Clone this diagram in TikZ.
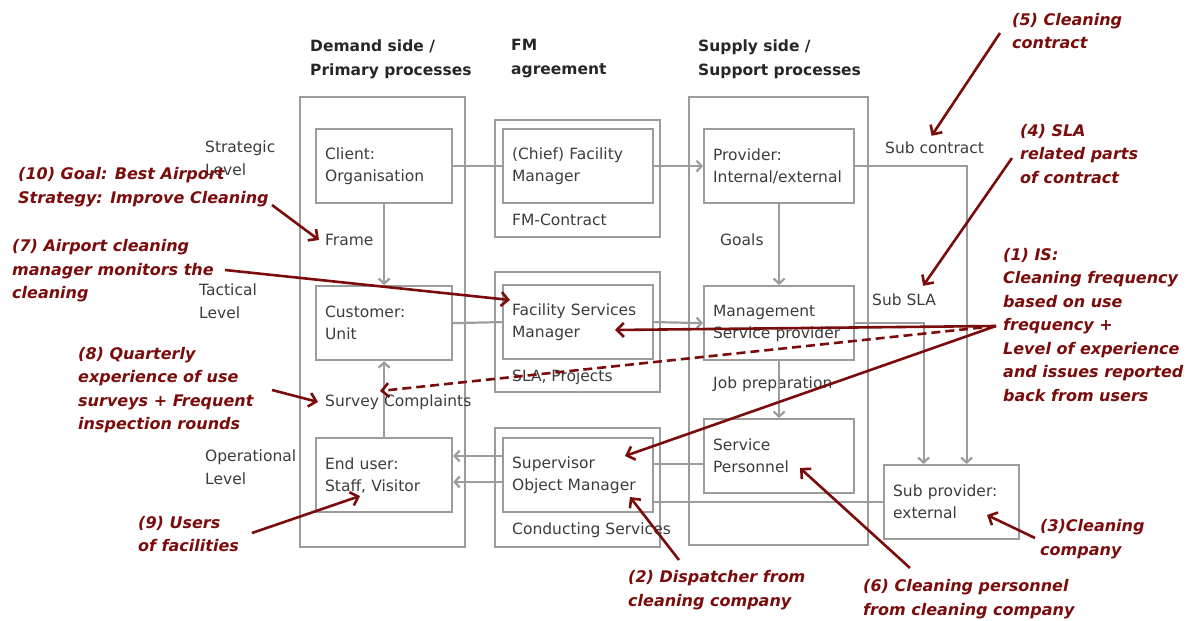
\documentclass[tikz,border=0pt]{standalone}
\usepackage{fontspec}
\setmainfont{DejaVu Sans}
\usetikzlibrary{positioning,fit,arrows.meta,calc}
\definecolor{boxgrey}{HTML}{9C9C9C}
\definecolor{txtgrey}{HTML}{3C3C3C}
\definecolor{notered}{HTML}{7A0C0C}
\begin{document}
\begin{tikzpicture}[x=1pt,y=-1pt,
  procbox/.style={draw=boxgrey,line width=2.2pt,text=txtgrey,align=left,anchor=north west,minimum height=74pt,inner xsep=9pt,font=\fontsize{15.5}{22}\selectfont},
  outerbox/.style={draw=boxgrey,line width=2.6pt,inner sep=0pt},
  lbl/.style={text=txtgrey,anchor=west,inner sep=1pt,align=left,font=\fontsize{15.5}{22.5}\selectfont},
  hdr/.style={text=black!85,anchor=west,inner sep=0pt,align=left,font=\bfseries\fontsize{15.5}{24}\selectfont},
  note/.style={text=notered,anchor=west,inner sep=0pt,align=left,font=\bfseries\itshape\fontsize{16}{23.5}\selectfont},
  gline/.style={draw=boxgrey,line width=2.2pt},
  garrow/.style={gline,-{Straight Barb[length=5pt,width=11pt]}},
  rarrow/.style={draw=notered,line width=2.6pt,-{Straight Barb[length=7pt,width=14pt]}},
  ]
  \useasboundingbox (0,0) rectangle (1187,621);
  \node[hdr] (hdemand) at (310,59) {Demand side /\\Primary processes};
  \node[hdr] (hfm) at (511,59) {FM\\agreement};
  \node[hdr] (hsupply) at (698,59) {Supply side /\\Support processes};
  \node[outerbox,fit={(300,97)(465,547)}] (demand) {};
  \node[outerbox,fit={(495,120)(660,237)}] (fmcontr) {};
  \node[outerbox,fit={(495,272)(660,392)}] (slaproj) {};
  \node[outerbox,fit={(495,428)(660,547)}] (conduct) {};
  \node[outerbox,fit={(689,97)(868,545)}] (supply) {};
  \node[lbl] (lstrat) at (204,158) {Strategic\\Level};
  \node[lbl] (ltact) at (198,301) {Tactical\\Level};
  \node[lbl] (loper) at (204,467) {Operational\\Level};
  \node[procbox,text width=118pt] (client) at (315,128) {Client:\\Organisation};
  \node[procbox,text width=118pt] (customer) at (315,285) {Customer:\\Unit};
  \node[procbox,text width=118pt] (enduser) at (315,437) {End user:\\Staff, Visitor};
  \node[procbox,text width=132pt] (chief) at (502,128) {(Chief) Facility\\Manager};
  \node[procbox,text width=132pt] (fsm) at (502,284) {Facility Services\\Manager};
  \node[procbox,text width=132pt] (supervisor) at (502,437) {Supervisor\\Object Manager};
  \node[procbox,text width=132pt] (provider) at (703,128) {Provider:\\Internal/external};
  \node[procbox,text width=132pt] (mgmt) at (703,285) {Management\\Service provider};
  \node[procbox,text width=132pt] (personnel) at (703,418) {Service\\Personnel};
  \node[procbox,text width=117pt] (subprov) at (883,464) {Sub provider:\\external};
  \node[lbl] (frame) at (324,240) {Frame};
  \node[lbl] (survey) at (324,402) {Survey Complaints};
  \node[lbl] (fmlbl) at (511,220) {FM-Contract};
  \node[lbl] (slalbl) at (511,377) {SLA, Projects};
  \node[lbl] (condlbl) at (511,530) {Conducting Services};
  \node[lbl] (goals) at (719,240) {Goals};
  \node[lbl] (jobprep) at (712,384) {Job preparation};
  \node[lbl] (subcontr) at (884,148) {Sub contract};
  \node[lbl] (subsla) at (871,300) {Sub SLA};
  \draw[gline] (client.east) -- (chief.west);
  \draw[garrow] (chief.east) -- (provider.west);
  \draw[garrow] (client.south) -- (customer.north);
  \draw[gline] (customer.east) -- (fsm.west);
  \draw[garrow] (fsm.east) -- (mgmt.west);
  \draw[garrow] (enduser.north) -- (customer.south);
  \draw[garrow] (provider.south) -- (mgmt.north);
  \draw[garrow] (mgmt.south) -- (personnel.north);
  \draw[garrow] (provider.east) -| ([xshift=15]subprov.north);
  \draw[garrow] (mgmt.east) -| ([xshift=-28]subprov.north);
  \draw[garrow] ([yshift=-19]supervisor.north west) -- ([yshift=-19]supervisor.north west -| enduser.east);
  \draw[garrow] ([yshift=-45]supervisor.north west) -- ([yshift=-45]supervisor.north west -| enduser.east);
  \draw[gline] ([yshift=-27]supervisor.north east) -- ([yshift=-27]supervisor.north east -| personnel.west);
  \draw[gline,line width=2.8pt] ([yshift=-65]supervisor.north east) -- ([yshift=-65]supervisor.north east -| subprov.west);
  \node[note] (n10) at (18,187) {(10) Goal: Best Airport\\Strategy: Improve Cleaning};
  \node[note] (n7) at (12,271) {(7) Airport cleaning\\manager monitors the\\cleaning};
  \node[note] (n8) at (78,390) {(8) Quarterly\\experience of use\\surveys + Frequent\\inspection rounds};
  \node[note] (n9) at (138,534) {(9) Users\\of facilities};
  \node[note] (n2) at (628,590) {(2) Dispatcher from\\cleaning company};
  \node[note] (n6) at (863,599) {(6) Cleaning personnel\\from cleaning company};
  \node[note] (n3) at (1040,539) {(3)Cleaning\\company};
  \node[note] (n5) at (1012,31) {(5) Cleaning\\contract};
  \node[note] (n4) at (1020,154) {(4) SLA\\related parts\\of contract};
  \node[note] (n1) at (1003,325) {(1) IS:\\Cleaning frequency\\based on use\\frequency +\\Level of experience\\and issues reported\\back from users};
  \coordinate (t10) at (272,205);
  \coordinate (t7) at (225,270);
  \coordinate (t8) at (272,390);
  \coordinate (t9) at (252,533);
  \coordinate (t2) at (679,560);
  \coordinate (t6) at (910,568);
  \coordinate (t3) at (1035,538);
  \coordinate (t5) at (1000,33);
  \coordinate (t4) at (1012,158);
  \coordinate (t1) at (996,326);
  \draw[rarrow] (t10) -- ([xshift=-5]frame.west);
  \draw[rarrow] (t7) -- ([shift={(8,16)}]fsm.north west);
  \draw[rarrow] (t8) -- ([xshift=-6]survey.west);
  \draw[rarrow] (t9) -- ([shift={(45,59)}]enduser.north west);
  \draw[rarrow] (t2) -- ([shift={(128,60)}]supervisor.north west);
  \draw[rarrow] (t6) -- ([shift={(97,50)}]personnel.north west);
  \draw[rarrow] (t3) -- ([shift={(104,51)}]subprov.north west);
  \draw[rarrow] (t5) -- ([shift={(-3,-5)}]subcontr.north);
  \draw[rarrow] (t4) -- ([shift={(19,-7)}]subsla.north);
  \draw[rarrow] (t1) -- ([shift={(113,46)}]fsm.north west);
  \draw[rarrow,dash pattern=on 9pt off 5pt] (t1) -- ([shift={(56,-11)}]survey.west);
  \draw[rarrow] (t1) -- ([shift={(123,19)}]supervisor.north west);
\end{tikzpicture}
\end{document}
